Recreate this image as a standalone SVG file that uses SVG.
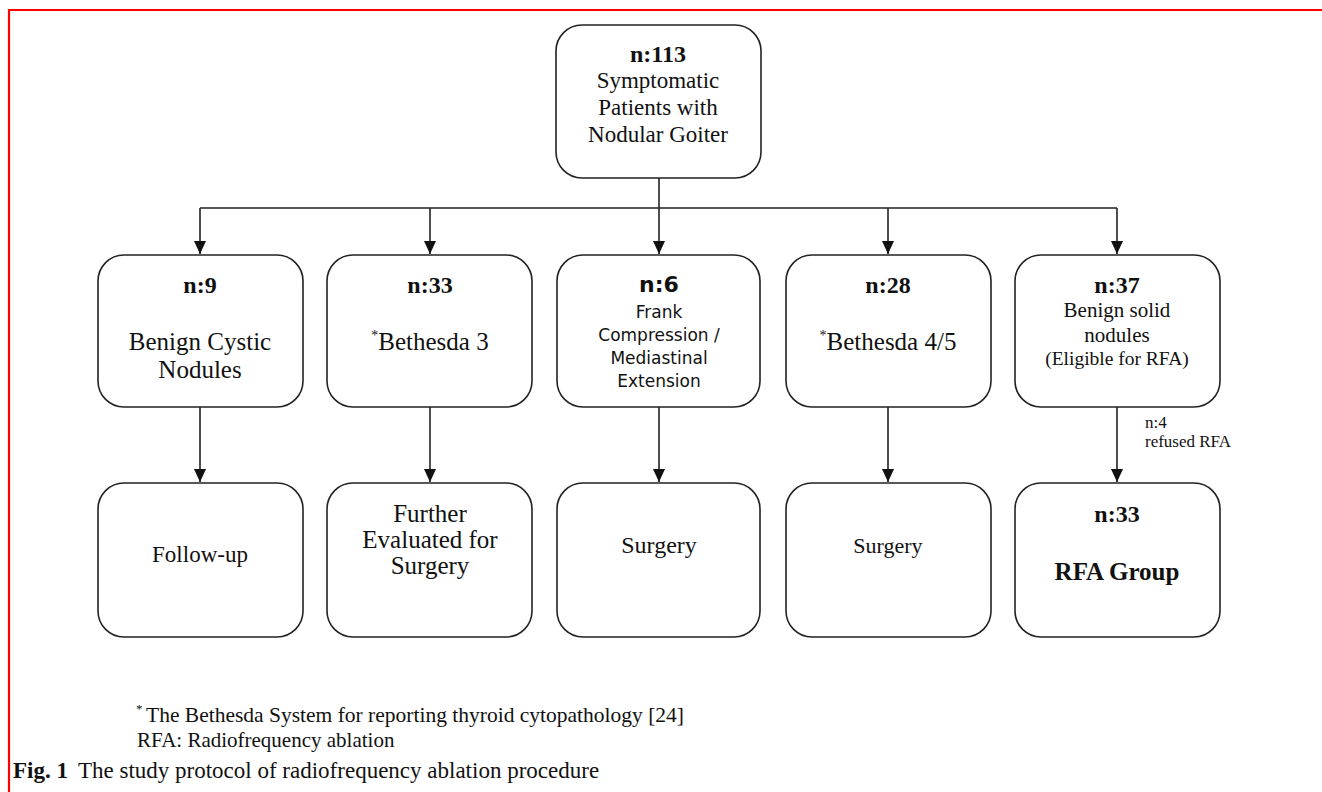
<svg xmlns="http://www.w3.org/2000/svg" width="1322" height="792" viewBox="0 0 1322 792">
<defs>
<marker id="ah" viewBox="0 0 13 12" refX="13" refY="6" markerWidth="13" markerHeight="12" markerUnits="userSpaceOnUse" orient="auto">
<path d="M0,0 L13,6 L0,12 Z" fill="#111"/>
</marker>
<style>
.box{fill:#fff;stroke:#222;stroke-width:1.6}
.ln{fill:none;stroke:#222;stroke-width:1.6}
.t{font-family:"Liberation Serif","Times New Roman",serif;fill:#111;text-anchor:middle}
.b{font-weight:bold}
.s{font-family:"DejaVu Sans",Verdana,sans-serif;fill:#111;text-anchor:middle}
.l{font-family:"Liberation Serif","Times New Roman",serif;fill:#111}
</style>
</defs>
<rect width="1322" height="792" fill="#fff"/>
<g id="frame">
<line x1="8" y1="10" x2="1322" y2="10" stroke="#ff0000" stroke-width="2.2"/>
<line x1="9" y1="9" x2="9" y2="792" stroke="#ff0000" stroke-width="2.2"/>
</g>
<g id="connectors">
<line class="ln" x1="659" y1="178" x2="659" y2="208"/>
<line class="ln" x1="200" y1="208" x2="1117" y2="208"/>
<line class="ln" x1="200" y1="208" x2="200" y2="254" marker-end="url(#ah)"/>
<line class="ln" x1="430" y1="208" x2="430" y2="254" marker-end="url(#ah)"/>
<line class="ln" x1="659" y1="208" x2="659" y2="254" marker-end="url(#ah)"/>
<line class="ln" x1="888" y1="208" x2="888" y2="254" marker-end="url(#ah)"/>
<line class="ln" x1="1117" y1="208" x2="1117" y2="254" marker-end="url(#ah)"/>
<line class="ln" x1="200" y1="407" x2="200" y2="482" marker-end="url(#ah)"/>
<line class="ln" x1="430" y1="407" x2="430" y2="482" marker-end="url(#ah)"/>
<line class="ln" x1="659" y1="407" x2="659" y2="482" marker-end="url(#ah)"/>
<line class="ln" x1="888" y1="407" x2="888" y2="482" marker-end="url(#ah)"/>
<line class="ln" x1="1117" y1="407" x2="1117" y2="482" marker-end="url(#ah)"/>
<text class="l" x="1145" y="428" font-size="17">n:4</text>
<text class="l" x="1145" y="447" font-size="17">refused RFA</text>
</g>
<g id="top">
<rect class="box" x="556" y="25" width="205" height="153" rx="26"/>
<text class="t b" x="658" y="62" font-size="24">n:113</text>
<text class="t" x="658" y="88" font-size="23">Symptomatic</text>
<text class="t" x="658" y="115" font-size="23">Patients with</text>
<text class="t" x="658" y="142" font-size="23">Nodular Goiter</text>
</g>
<g id="cystic">
<rect class="box" x="98" y="255" width="205" height="152" rx="26"/>
<text class="t b" x="200" y="293" font-size="24">n:9</text>
<text class="t" x="200" y="350" font-size="25">Benign Cystic</text>
<text class="t" x="200" y="378" font-size="25">Nodules</text>
</g>
<g id="beth3">
<rect class="box" x="327" y="255" width="205" height="152" rx="26"/>
<text class="t b" x="430" y="293" font-size="24">n:33</text>
<text class="t" x="430" y="350" font-size="25"><tspan font-size="14" dy="-10">*</tspan><tspan dy="10">Bethesda 3</tspan></text>
</g>
<g id="frank">
<rect class="box" x="557" y="255" width="203" height="152" rx="26"/>
<text class="s b" x="659" y="292" font-size="22">n:6</text>
<text class="s" x="659" y="318" font-size="17">Frank</text>
<text class="s" x="659" y="341" font-size="17">Compression /</text>
<text class="s" x="659" y="364" font-size="17">Mediastinal</text>
<text class="s" x="659" y="387" font-size="17">Extension</text>
</g>
<g id="beth45">
<rect class="box" x="786" y="255" width="205" height="152" rx="26"/>
<text class="t b" x="888" y="293" font-size="24">n:28</text>
<text class="t" x="888" y="350" font-size="25"><tspan font-size="14" dy="-10">*</tspan><tspan dy="10">Bethesda 4/5</tspan></text>
</g>
<g id="solid">
<rect class="box" x="1015" y="255" width="205" height="152" rx="26"/>
<text class="t b" x="1117" y="293" font-size="24">n:37</text>
<text class="t" x="1117" y="317" font-size="21">Benign solid</text>
<text class="t" x="1117" y="342" font-size="21">nodules</text>
<text class="t" x="1117" y="365" font-size="19.5">(Eligible for RFA)</text>
</g>
<g id="followup">
<rect class="box" x="98" y="483" width="205" height="154" rx="26"/>
<text class="t" x="200" y="562" font-size="23">Follow-up</text>
</g>
<g id="further">
<rect class="box" x="327" y="483" width="205" height="154" rx="26"/>
<text class="t" x="430" y="522" font-size="25">Further</text>
<text class="t" x="430" y="548" font-size="25">Evaluated for</text>
<text class="t" x="430" y="574" font-size="25">Surgery</text>
</g>
<g id="surgery1">
<rect class="box" x="557" y="483" width="203" height="154" rx="26"/>
<text class="t" x="659" y="553" font-size="24">Surgery</text>
</g>
<g id="surgery2">
<rect class="box" x="786" y="483" width="205" height="154" rx="26"/>
<text class="t" x="888" y="553" font-size="22">Surgery</text>
</g>
<g id="rfa">
<rect class="box" x="1015" y="483" width="205" height="154" rx="26"/>
<text class="t b" x="1117" y="522" font-size="24">n:33</text>
<text class="t b" x="1117" y="580" font-size="25">RFA Group</text>
</g>
<g id="notes">
<text class="l" x="136" y="722" font-size="21.5"><tspan font-size="13" dy="-9">*</tspan><tspan x="146" dy="9">The Bethesda System for reporting thyroid cytopathology [24]</tspan></text>
<text class="l" x="137" y="747" font-size="21">RFA: Radiofrequency ablation</text>
<text class="l" x="13" y="778" font-size="23"><tspan font-weight="bold">Fig. 1</tspan><tspan dx="10">The study protocol of radiofrequency ablation procedure</tspan></text>
</g>
</svg>
